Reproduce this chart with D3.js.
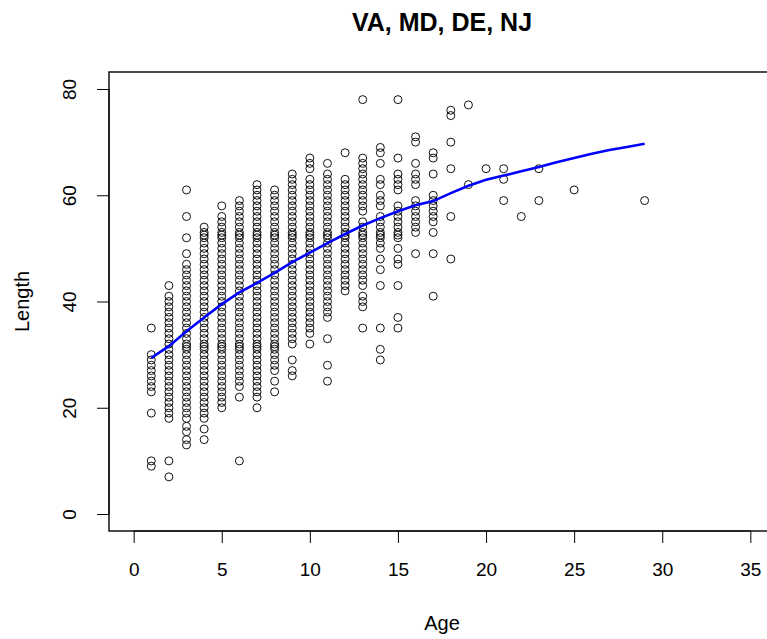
<!DOCTYPE html>
<html>
<head>
<meta charset="utf-8">
<script src="https://cdn.jsdelivr.net/npm/d3@7"></script>
<style>
  html, body { margin: 0; padding: 0; background: #ffffff; }
  svg { display: block; }
  text { font-family: "Liberation Sans", Arial, sans-serif; fill: #000; }
</style>
</head>
<body>
<svg id="chart" width="767" height="639"></svg>
<script>
// ---------- data ----------
const title = "VA, MD, DE, NJ";
const xLabel = "Age";
const yLabel = "Length";
const xTicks = [0, 5, 10, 15, 20, 25, 30, 35];
const yTicks = [0, 20, 40, 60, 80];

// observed lengths per age: runs [lo, hi] of consecutive integer lengths
const ages = [1, 2, 3, 4, 5, 6, 7, 8, 9, 10, 11, 12, 13, 14, 15, 16, 17, 18, 19, 20, 21, 22, 23, 25, 29];
const lengthRuns = [
  [[23,30],[35,35],[19,19],[10,10],[9,9]],
  [[18,41],[43,43],[10,10],[7,7]],
  [[18,47],[49,49],[52,52],[56,56],[61,61],[13,14]],
  [[18,54],[16,16],[14,14]],
  [[20,56],[58,58]],
  [[24,59],[22,22],[10,10]],
  [[22,62],[20,20]],
  [[27,61],[25,25],[23,23]],
  [[32,64],[29,29],[26,27]],
  [[34,63],[65,67],[32,32]],
  [[37,64],[66,66],[33,33],[28,28],[25,25]],
  [[42,63],[68,68]],
  [[78,78],[57,67],[43,55],[39,41],[35,35]],
  [[68,69],[66,66],[62,63],[58,60],[50,56],[48,48],[46,46],[43,43],[35,35],[31,31],[29,29]],
  [[78,78],[67,67],[61,64],[52,58],[50,50],[47,48],[43,43],[37,37],[35,35]],
  [[70,71],[66,66],[62,64],[53,59],[49,49]],
  [[67,68],[64,64],[55,60],[53,53],[49,49],[41,41]],
  [[75,76],[70,70],[65,65],[56,56],[48,48]],
  [[77,77],[62,62]],
  [[65,65]],
  [[65,65],[63,63],[59,59]],
  [[56,56]],
  [[65,65],[59,59]],
  [[61,61]],
  [[59,59]]
];
// single extra (non-integer) observations
const extraAges    = [3, 3, 3, 4, 4, 5, 5, 6, 6, 7, 7, 8, 8, 9, 10, 11, 12, 13, 14, 15];
const extraLengths = [16.5, 15.5, 31.5, 31.5, 52.5, 31.5, 52.5, 31.5, 52.5, 31.5, 52.5, 31.5, 52.5, 52.5, 52.5, 52.5, 52.5, 52.5, 52.5, 52.5];

// fitted growth curve
const fitAges = [1,2,3,4,5,6,7,8,9,10,11,12,13,14,15,16,17,18,19,20,21,22,23,24,25,26,27,28,29];
const fitLengths = [29.4,31.6,34.4,37.0,39.5,41.7,43.5,45.4,47.4,49.2,51.0,52.7,54.3,55.7,57.0,58.1,58.9,60.4,61.8,62.9,63.7,64.5,65.3,66.2,67.0,67.8,68.5,69.1,69.7];

// ---------- build point table ----------
const points = [];
ages.forEach((a, i) => {
  lengthRuns[i].forEach(([lo, hi]) => {
    for (let v = lo; v <= hi; v++) points.push({age: a, len: v});
  });
});
extraAges.forEach((a, i) => points.push({age: a, len: extraLengths[i]}));

// ---------- layout ----------
const svg = d3.select("#chart");
const L = 109, T = 72, R = 775, B = 531;

const x = d3.scaleLinear().domain([-1.4, 36.4]).range([L, R]);
const y = d3.scaleLinear().domain([-3.2, 83.2]).range([B, T]);

// plot box
svg.append("rect")
  .attr("x", L).attr("y", T).attr("width", R - L).attr("height", B - T)
  .attr("fill", "none").attr("stroke", "#000").attr("stroke-width", 1.4);

// x axis
const xAxis = d3.axisBottom(x).tickValues(xTicks).tickSize(12).tickPadding(20).tickFormat(d3.format("d"));
const gx = svg.append("g").attr("transform", `translate(0,${B})`).call(xAxis);
gx.select(".domain").attr("d", `M${x(0)},0H${x(35)}`).attr("stroke", "#000");
gx.selectAll(".tick line").attr("stroke", "#000");
gx.selectAll(".tick text").attr("font-size", 19).attr("font-family", "Liberation Sans, Arial, sans-serif").attr("fill", "#222");

// y axis
const yAxis = d3.axisLeft(y).tickValues(yTicks).tickSize(12).tickPadding(0).tickFormat(d3.format("d"));
const gy = svg.append("g").attr("transform", `translate(${L},0)`).call(yAxis);
gy.select(".domain").attr("d", `M0,${y(0)}V${y(80)}`).attr("stroke", "#000");
gy.selectAll(".tick line").attr("stroke", "#000");
gy.selectAll(".tick text")
  .attr("font-size", 19).attr("font-family", "Liberation Sans, Arial, sans-serif").attr("fill", "#222")
  .attr("x", null)
  .attr("text-anchor", "middle")
  .attr("transform", "translate(-40,0) rotate(-90)")
  .attr("dy", "0.36em");

// points
svg.append("g").selectAll("circle").data(points).join("circle")
  .attr("cx", d => x(d.age))
  .attr("cy", d => y(d.len))
  .attr("r", 4)
  .attr("fill", "none")
  .attr("stroke", "#111")
  .attr("stroke-width", 1);

// fitted line
const line = d3.line().x((d, i) => x(fitAges[i])).y(d => y(d));
svg.append("path").datum(fitLengths)
  .attr("d", line)
  .attr("fill", "none")
  .attr("stroke", "#0000ff")
  .attr("stroke-width", 2.6);

// titles
svg.append("text").attr("x", (L + R) / 2).attr("y", 31)
  .attr("text-anchor", "middle").attr("font-weight", "bold").attr("font-size", 25)
  .text(title);
svg.append("text").attr("x", (L + R) / 2).attr("y", 630)
  .attr("text-anchor", "middle").attr("font-size", 20).attr("fill", "#222")
  .text(xLabel);
svg.append("text").attr("transform", `translate(29,${(T + B) / 2}) rotate(-90)`)
  .attr("text-anchor", "middle").attr("font-size", 20).attr("fill", "#222")
  .text(yLabel);
</script>
</body>
</html>
